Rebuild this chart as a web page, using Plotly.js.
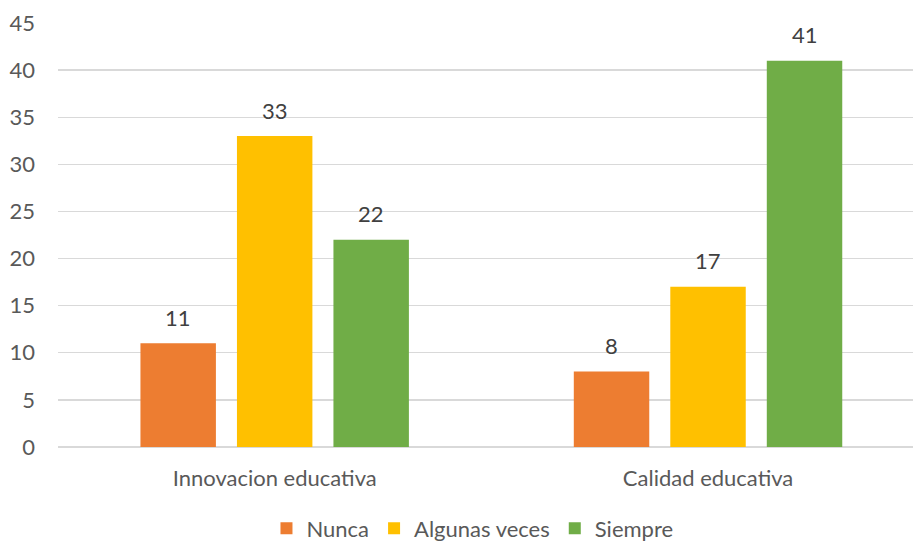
<!DOCTYPE html>
<html>
<head>
<meta charset="utf-8">
<script src="https://cdn.plot.ly/plotly-3.0.1.min.js"></script>
<style>html,body{margin:0;padding:0;overflow:hidden;background:#fff;}#chart{width:913px;height:542px;}</style>
</head>
<body>
<div id="chart"></div>
<script>
var categories = ["Innovacion educativa", "Calidad educativa"];
var seriesNames = ["Nunca", "Algunas veces", "Siempre"];
var nunca = [11, 8];
var algunasVeces = [33, 17];
var siempre = [22, 41];
var colors = ["#ED7D31", "#FFC000", "#70AD47"];
var yTicks = [0, 5, 10, 15, 20, 25, 30, 35, 40, 45];

var seriesValues = [nunca, algunasVeces, siempre];
var font = "Lato, 'Open Sans', sans-serif";
var fs = 22;
var bargap = 0.332;
var slot = (1 - bargap) / seriesValues.length;

var traces = seriesValues.map(function (vals, i) {
  return {
    type: "bar",
    name: seriesNames[i],
    x: categories,
    y: vals,
    marker: {color: colors[i]},
    hoverinfo: "none"
  };
});

var annotations = [];
seriesValues.forEach(function (vals, i) {
  vals.forEach(function (v, j) {
    annotations.push({
      xref: "x", yref: "y",
      x: j + (i - (seriesValues.length - 1) / 2) * slot,
      y: v,
      text: String(v),
      showarrow: false,
      yanchor: "middle",
      yshift: 26,
      font: {family: font, size: fs, color: "#404040"}
    });
  });
});

var layout = {
  width: 913,
  height: 542,
  margin: {l: 58, r: 0, t: 23, b: 95},
  paper_bgcolor: "#fff",
  plot_bgcolor: "#fff",
  barmode: "group",
  bargap: bargap,
  bargroupgap: 0.218,
  font: {family: font, size: fs, color: "#595959"},
  annotations: annotations,
  xaxis: {
    type: "category",
    range: [-0.5, 1.473],
    showgrid: false,
    zeroline: false,
    showline: false,
    ticks: "",
    ticklabelstandoff: 16,
    tickfont: {family: font, size: fs, color: "#595959"}
  },
  yaxis: {
    range: [0, 45],
    tickvals: yTicks,
    showgrid: true,
    gridcolor: "#D9D9D9",
    gridwidth: 1.3,
    zeroline: true,
    zerolinecolor: "#D9D9D9",
    zerolinewidth: 1.5,
    showline: false,
    ticks: "",
    ticklabelstandoff: 22,
    tickfont: {family: font, size: fs, color: "#595959"}
  },
  legend: {
    orientation: "h",
    xref: "container",
    yref: "container",
    x: 0.5175,
    xanchor: "center",
    y: 0.025,
    yanchor: "middle",
    font: {family: font, size: fs, color: "#595959"},
    itemclick: false,
    itemwidth: 30,
    traceorder: "normal"
  },
  showlegend: true
};

Plotly.newPlot("chart", traces, layout, {staticPlot: true, displayModeBar: false});
</script>
</body>
</html>
